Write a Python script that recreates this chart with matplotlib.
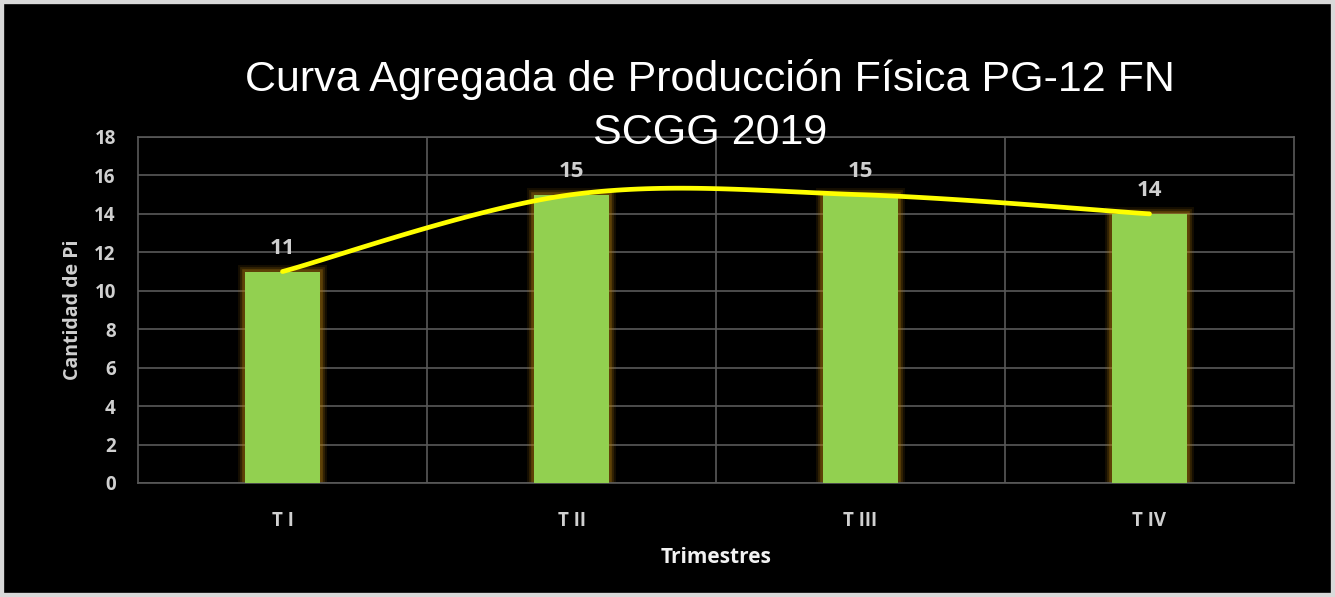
import matplotlib.pyplot as plt
import numpy as np
from matplotlib.patches import Rectangle

# Data
categories = ["T I", "T II", "T III", "T IV"]
values = [11, 15, 15, 14]
yticks = [0, 2, 4, 6, 8, 10, 12, 14, 16, 18]

fig = plt.figure(figsize=(13.35, 5.97), dpi=100)
fig.patch.set_facecolor("black")

ax = fig.add_axes([138 / 1335, 1 - 483 / 597, 1156 / 1335, 346 / 597])
ax.set_facecolor("black")

x = np.arange(len(categories))
grid_col = "#595959"

# bars with a soft orange glow
for lw, a in [(10, 0.12), (7, 0.2), (4, 0.35)]:
    ax.bar(x, values, width=0.26, color="none", edgecolor="#b07a10",
           linewidth=lw, alpha=a, zorder=2)
ax.bar(x, values, width=0.26, color="#92d050", edgecolor="none", zorder=3)

# smoothed line (Excel style bezier through the points)
px = x.astype(float)
py = np.array(values, dtype=float)
cx, cy = [], []
for i in range(len(px) - 1):
    p0 = (px[max(i - 1, 0)], py[max(i - 1, 0)])
    p1 = (px[i], py[i])
    p2 = (px[i + 1], py[i + 1])
    p3 = (px[min(i + 2, len(px) - 1)], py[min(i + 2, len(px) - 1)])
    c1 = (p1[0] + (p2[0] - p0[0]) / 6, p1[1] + (p2[1] - p0[1]) / 6)
    c2 = (p2[0] - (p3[0] - p1[0]) / 6, p2[1] - (p3[1] - p1[1]) / 6)
    t = np.linspace(0, 1, 40)
    bx = ((1 - t) ** 3 * p1[0] + 3 * (1 - t) ** 2 * t * c1[0]
          + 3 * (1 - t) * t ** 2 * c2[0] + t ** 3 * p2[0])
    by = ((1 - t) ** 3 * p1[1] + 3 * (1 - t) ** 2 * t * c1[1]
          + 3 * (1 - t) * t ** 2 * c2[1] + t ** 3 * p2[1])
    cx.extend(bx)
    cy.extend(by)
ax.plot(cx, cy, color="#ffff00", linewidth=3.4, solid_capstyle="round", zorder=5)

# data labels
for xi, v in zip(x, values):
    ax.text(xi, v + 0.65, str(v), ha="center", va="bottom", color="#cfcfcf",
            fontsize=16, fontweight="bold", family="Open Sans", zorder=6)

ax.set_xlim(-0.5, 3.5)
ax.set_ylim(0, 18)
ax.set_yticks(yticks)
ax.set_xticks(x)
ax.set_xticklabels(categories)
ax.set_xticks([0.5, 1.5, 2.5], minor=True)
ax.grid(axis="y", which="major", color=grid_col, linewidth=1.2, zorder=1)
ax.grid(axis="x", which="minor", color=grid_col, linewidth=1.2, zorder=1)
ax.set_axisbelow(True)
for s in ax.spines.values():
    s.set_color(grid_col)
    s.set_linewidth(1.2)
ax.tick_params(which="both", length=0)
ax.tick_params(axis="y", pad=16)
ax.tick_params(axis="x", pad=20)
for lab in ax.get_xticklabels() + ax.get_yticklabels():
    lab.set_color("#d0d0d0")
    lab.set_fontweight("bold")
    lab.set_family("Open Sans")
    lab.set_fontsize(13.5)

ax.set_ylabel("Cantidad de Pi", color="#d0d0d0", fontsize=14,
              fontweight="bold", family="Open Sans", labelpad=8)
ax.set_xlabel("Trimestres", color="#f2f2f2", fontsize=15,
              fontweight="bold", family="Open Sans", labelpad=12)

fig.text(710 / 1335, 1 - 79 / 597, "Curva Agregada de Producción Física PG-12 FN",
         ha="center", va="center", color="white", fontsize=31,
         family="Liberation Sans")
fig.text(710 / 1335, 1 - 133 / 597, "SCGG 2019",
         ha="center", va="center", color="white", fontsize=31,
         family="Liberation Sans", zorder=10)

# light frame round the chart
fig.patches.append(Rectangle((0, 0), 1, 1, transform=fig.transFigure,
                             fill=False, edgecolor="#d9d9d9", linewidth=6,
                             zorder=20))

fig.savefig("out.png", dpi=100, facecolor=fig.get_facecolor())
